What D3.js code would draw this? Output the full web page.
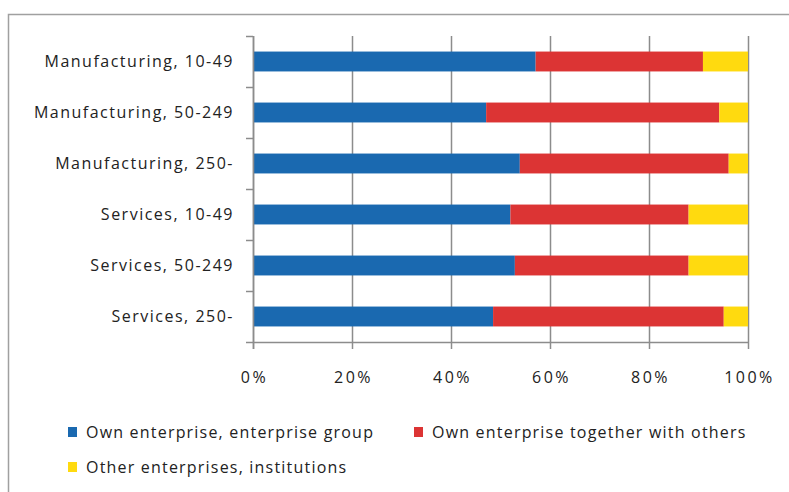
<!DOCTYPE html>
<html>
<head>
<meta charset="utf-8">
<script src="https://cdn.jsdelivr.net/npm/d3@7"></script>
<style>
  html, body { margin: 0; padding: 0; background: #fff; }
  text { font-family: "Open Sans", sans-serif; fill: #222; }
</style>
</head>
<body>
<div id="canvas"></div>
<script>
const categories = ['Manufacturing, 10-49', 'Manufacturing, 50-249', 'Manufacturing, 250-',
                    'Services, 10-49', 'Services, 50-249', 'Services, 250-'];
const seriesNames = ['Own enterprise, enterprise group', 'Own enterprise together with others', 'Other enterprises, institutions'];
const ownGroup = [57.1, 47.1, 53.9, 52.0, 52.9, 48.5];
const togetherOthers = [33.8, 47.1, 42.2, 36.0, 35.1, 46.6];
const otherInstitutions = [9.1, 5.8, 3.9, 12.0, 12.0, 4.9];
const tickValues = [0, 20, 40, 60, 80, 100];
const colors = ['#1a69b0', '#dc3434', '#ffda0f'];

const W = 789, H = 492;
const plot = { left: 253, right: 748, top: 36, bottom: 342 };

const svg = d3.select('#canvas').append('svg')
    .attr('width', W)
    .attr('height', H);

// outer frame (only top and left edges show in the picture)
svg.append('path')
    .attr('d', 'M8.5,' + H + 'V14.5H' + W)
    .attr('fill', 'none')
    .attr('stroke', '#a0a0a0')
    .attr('stroke-width', 1.5);

const x = d3.scaleLinear().domain([0, 100]).range([plot.left, plot.right]);
const y = d3.scaleBand().domain(categories).range([plot.top, plot.bottom]).paddingInner(0.61).paddingOuter(0.305);

// gridlines
svg.append('g')
    .selectAll('line')
    .data(tickValues)
    .enter()
    .append('line')
        .attr('x1', d => Math.round(x(d)) + 0.5)
        .attr('x2', d => Math.round(x(d)) + 0.5)
        .attr('y1', plot.top)
        .attr('y2', plot.bottom)
        .attr('stroke', '#8c8c8c')
        .attr('stroke-width', 1.5);

const stackData = categories.map((c, i) => ({ cat: c, a: ownGroup[i], b: togetherOthers[i], c: otherInstitutions[i] }));
const stacked = d3.stack().keys(['a', 'b', 'c'])(stackData);

svg.append('g')
    .selectAll('g')
    .data(stacked)
    .enter()
    .append('g')
        .attr('fill', (d, i) => colors[i])
        .selectAll('rect')
        .data(d => d)
        .enter()
        .append('rect')
            .attr('x', d => x(d[0]))
            .attr('width', d => x(d[1]) - x(d[0]))
            .attr('y', d => y(d.data.cat))
            .attr('height', y.bandwidth());

// y axis line and ticks at band boundaries
const yAxis = svg.append('g').attr('stroke', '#8c8c8c').attr('stroke-width', 1.5);
yAxis.append('line')
    .attr('x1', plot.left + 0.5).attr('x2', plot.left + 0.5)
    .attr('y1', plot.top).attr('y2', plot.bottom + 7);
yAxis.selectAll('line.tick')
    .data(d3.range(categories.length + 1))
    .enter()
    .append('line')
        .attr('class', 'tick')
        .attr('x1', plot.left - 7)
        .attr('x2', plot.left)
        .attr('y1', i => Math.round(plot.top + i * y.step()) + 0.5)
        .attr('y2', i => Math.round(plot.top + i * y.step()) + 0.5);

// x axis line and ticks
const xAxis = svg.append('g').attr('transform', 'translate(0,' + plot.bottom + ')');
xAxis.call(d3.axisBottom(x).tickValues(tickValues).tickSize(7).tickSizeOuter(0).tickFormat(d => d + '%'));
xAxis.select('.domain').attr('stroke', '#8c8c8c').attr('stroke-width', 1.5);
xAxis.selectAll('.tick line').attr('stroke', '#8c8c8c').attr('stroke-width', 1.5);
xAxis.selectAll('.tick text')
    .attr('y', 41)
    .attr('dy', 0)
    .attr('dx', 1)
    .style('font-size', '16px')
    .style('letter-spacing', '2.5px')
    .style('font-family', '"Open Sans", sans-serif')
    .attr('fill', '#222');

// category labels
svg.append('g')
    .selectAll('text')
    .data(categories)
    .enter()
    .append('text')
        .attr('x', 234)
        .attr('y', d => y(d) + y.bandwidth() / 2)
        .attr('dy', '0.35em')
        .attr('text-anchor', 'end')
        .style('font-size', '16px')
        .style('letter-spacing', '1.5px')
        .text(d => d);

// legend
const legendPos = [{ x: 68, y: 432 }, { x: 414, y: 432 }, { x: 68, y: 467 }];
const legend = svg.append('g')
    .selectAll('g')
    .data(seriesNames)
    .enter()
    .append('g')
        .attr('transform', (d, i) => 'translate(' + legendPos[i].x + ',' + legendPos[i].y + ')');
legend.append('rect')
    .attr('x', 0).attr('y', -5)
    .attr('width', 9).attr('height', 10)
    .attr('fill', (d, i) => colors[i]);
legend.append('text')
    .attr('x', 18)
    .attr('dy', '0.35em')
    .style('font-size', '16px')
    .style('letter-spacing', '1.2px')
    .text(d => d);
</script>
</body>
</html>
